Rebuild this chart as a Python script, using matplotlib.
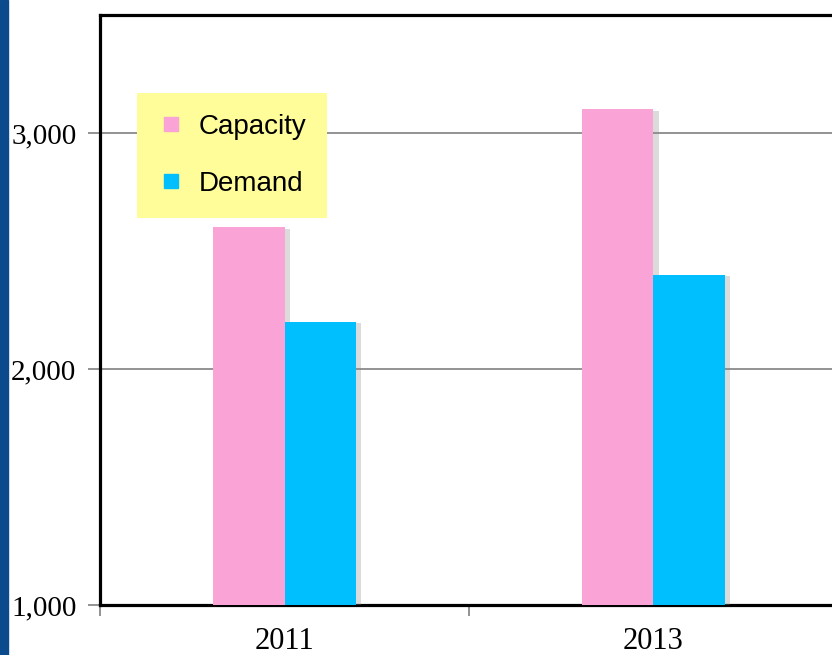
import matplotlib.pyplot as plt
import matplotlib.patheffects as pe
from matplotlib.lines import Line2D
from matplotlib.patches import Rectangle
import numpy as np

years = ['2011', '2013']
capacity = [2600, 3100]
demand = [2200, 2400]
series_names = ['Capacity', 'Demand']
pink = '#F9A3D7'
blue = '#00BFFF'

fig = plt.figure(figsize=(8.32, 6.55), dpi=100)
ax = fig.add_axes([100/832, 50/655, 738/832, 590/655])

x = np.arange(len(years)) + 0.5
w = 0.193
shadow = [pe.SimplePatchShadow(offset=(4, -1), shadow_rgbFace='#888888', alpha=0.3), pe.Normal()]
ax.bar(x - w/2, capacity, w, color=pink, zorder=3, path_effects=shadow)
ax.bar(x + w/2, demand, w, color=blue, zorder=3, path_effects=shadow)

ax.set_xlim(0, 2)
ax.set_ylim(1000, 3500)
ax.set_yticks([1000, 2000, 3000])
ax.set_yticklabels(['1,000', '2,000', '3,000'])
ax.yaxis.grid(True, color='#8a8a8a', linewidth=1.3, zorder=0)
ax.tick_params(axis='y', length=9, color='#8a8a8a', width=1.3, pad=8,
               labelsize=21, labelfontfamily='Liberation Serif')

ax.set_xticks([0, 1, 2])
ax.set_xticklabels([])
ax.set_xticks(x, minor=True)
ax.set_xticklabels(years, minor=True, fontsize=22, fontfamily='Liberation Serif')
ax.tick_params(axis='x', which='major', length=8, color='#8a8a8a', width=1.3)
ax.tick_params(axis='x', which='minor', length=0, pad=16)

for s in ['left', 'top', 'bottom']:
    ax.spines[s].set_linewidth(2.3)
    ax.spines[s].set_color('black')
ax.spines['right'].set_visible(False)
ax.set_axisbelow(True)

handles = [Line2D([], [], marker='s', linestyle='none', markersize=10,
                  markerfacecolor=c, markeredgecolor=c) for c in [pink, blue]]
leg = ax.legend(handles, series_names, loc='upper left', bbox_to_anchor=(0.05, 0.868),
                borderaxespad=0, frameon=True, fancybox=False, facecolor='#FFFD99',
                edgecolor='none', framealpha=1,
                prop={'family': 'Liberation Sans', 'size': 20},
                borderpad=0.76, labelspacing=1.1, handlelength=0.9, handletextpad=0.55)
leg.set_zorder(5)

fig.add_artist(Rectangle((0, 0), 8/832, 1, transform=fig.transFigure,
                         color='#0C4A8E', zorder=10))

fig.savefig('out.png', dpi=100)
